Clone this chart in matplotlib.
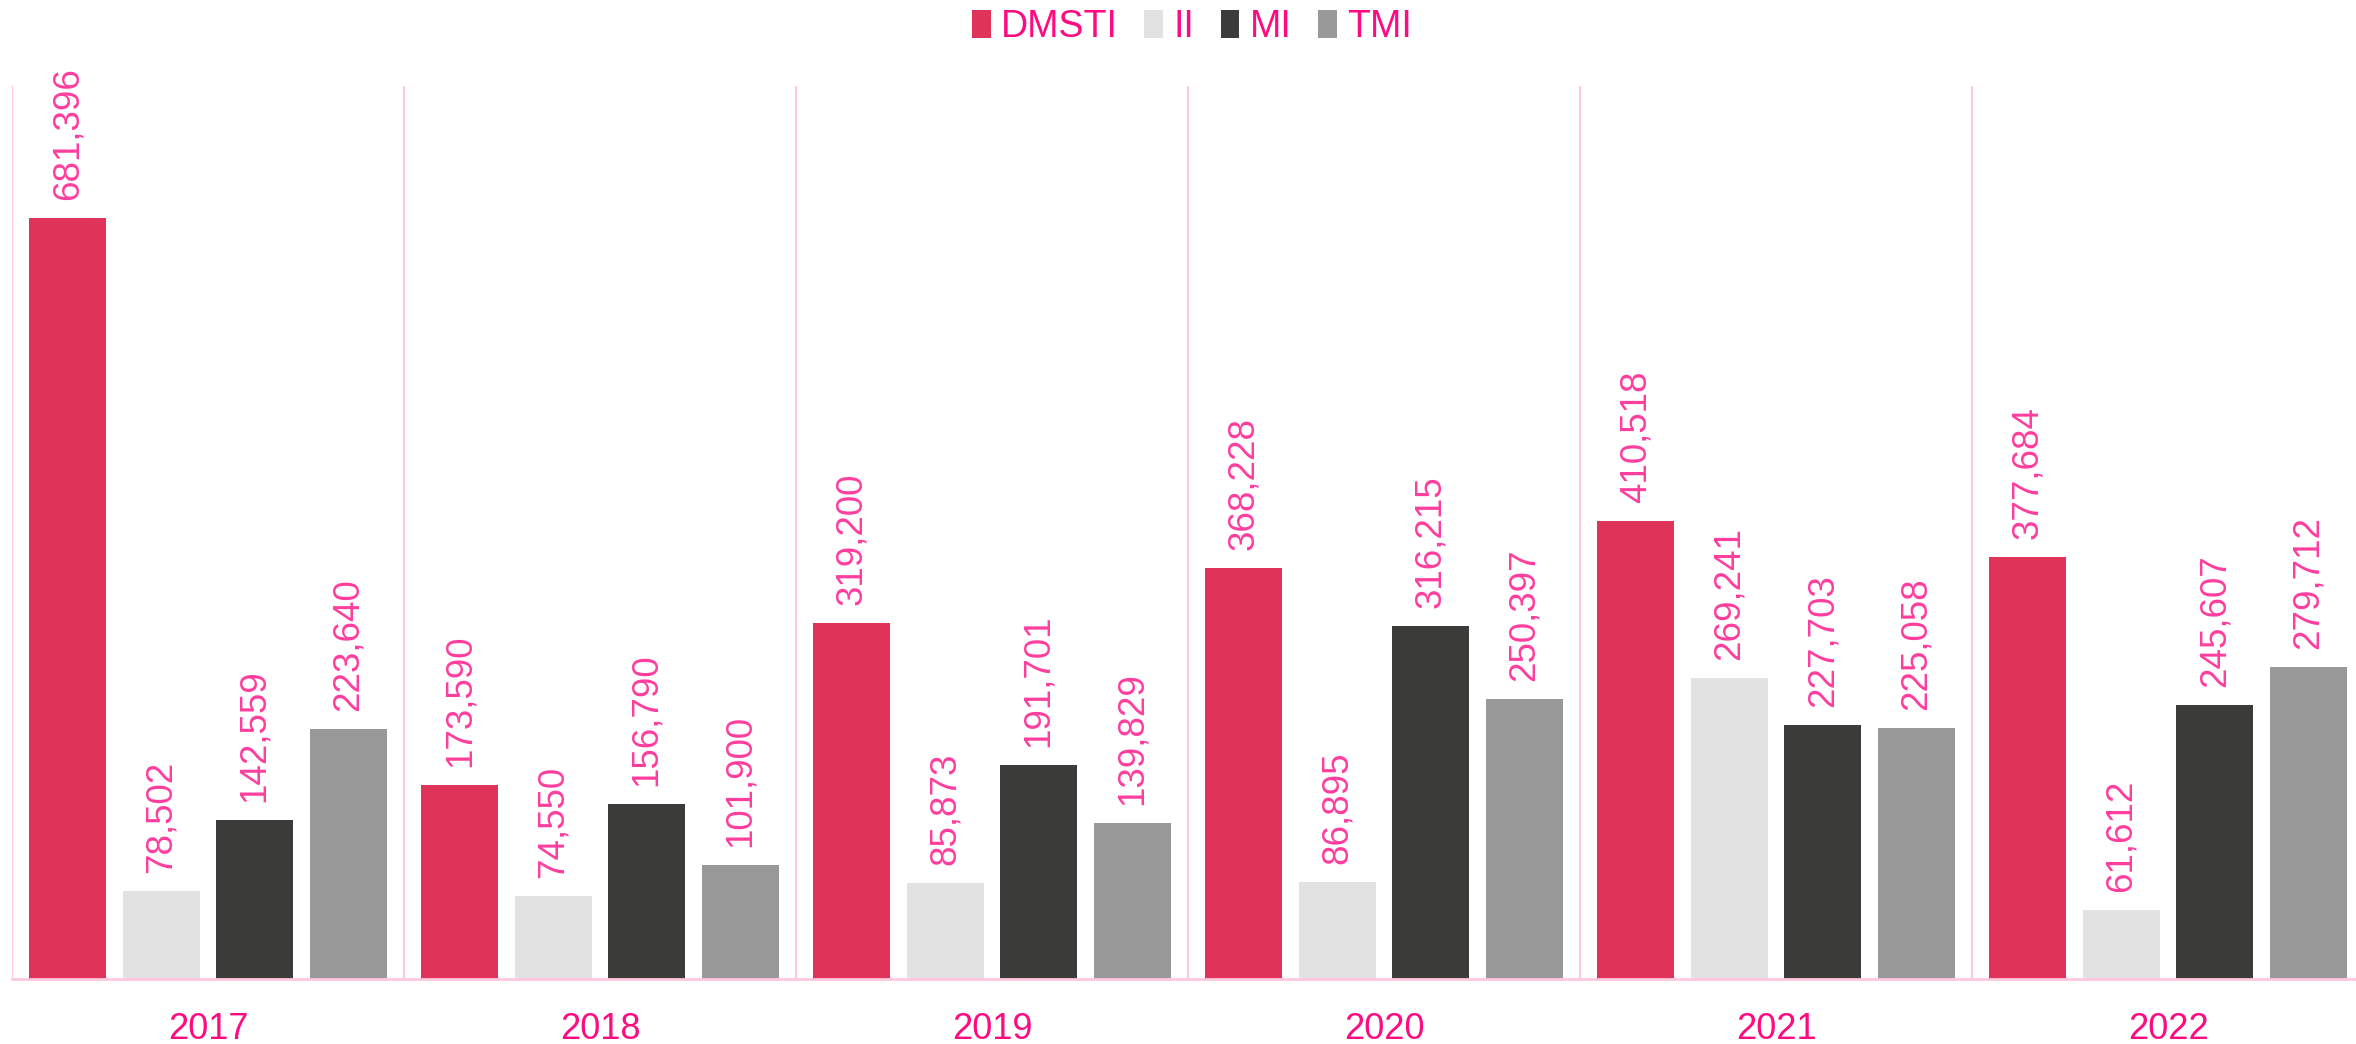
import matplotlib
matplotlib.use("Agg")
import matplotlib.pyplot as plt
import numpy as np

years = ["2017", "2018", "2019", "2020", "2021", "2022"]
series_names = ["DMSTI", "II", "MI", "TMI"]
dmsti = [681396, 173590, 319200, 368228, 410518, 377684]
ii = [78502, 74550, 85873, 86895, 269241, 61612]
mi = [142559, 156790, 191701, 316215, 227703, 245607]
tmi = [223640, 101900, 139829, 250397, 225058, 279712]
colors = ["#E0335A", "#E2E2E2", "#3B3B3A", "#999999"]

plt.rcParams['font.family'] = ['Liberation Sans', 'DejaVu Sans']

W, H = 2356, 1044
fig = plt.figure(figsize=(W / 100, H / 100), dpi=100)
left = 12 / W
right = 2364 / W
bottom = 1 - 979 / H
top = 1 - 86 / H
ax = fig.add_axes([left, bottom, right - left, top - bottom])

x = np.arange(len(years))
pitch = 0.2385
width = 0.196
label_color = "#FF3D9E"
text_color = "#FF0A80"
sep_color = "#FFC8DE"

all_series = [dmsti, ii, mi, tmi]
handles = []
for i, (name, vals, c) in enumerate(zip(series_names, all_series, colors)):
    xs = x + (i - 1.5) * pitch
    b = ax.bar(xs, vals, width=width, color=c, label=name, zorder=2)
    handles.append(b)
    for xi, v in zip(xs, vals):
        ax.annotate(f"{v:,}", xy=(xi, v), xytext=(0, 13), textcoords="offset points",
                    rotation=90, ha="center", va="bottom", color=label_color,
                    fontsize=26.5, zorder=3)

ax.set_xlim(-0.5, len(years) - 0.5)
ax.set_ylim(0, 800000)
for k in range(len(years)):
    ax.axvline(k - 0.5, color=sep_color, lw=1.5, zorder=1)

for s in ["top", "right", "left"]:
    ax.spines[s].set_visible(False)
ax.spines["bottom"].set_color(sep_color)
ax.spines["bottom"].set_linewidth(2)
ax.set_yticks([])
ax.set_xticks(x)
ax.set_xticklabels(years, color=text_color, fontsize=26)
ax.tick_params(axis="x", length=0, pad=24)

leg = fig.legend(handles=handles, labels=series_names, loc="center",
                 bbox_to_anchor=(1192 / W, 1 - 27 / H), ncol=4, frameon=False,
                 fontsize=27, handlelength=0.5, handleheight=0.75,
                 handletextpad=0.28, columnspacing=0.7)
for t in leg.get_texts():
    t.set_color(text_color)

fig.savefig("out.png", dpi=100)
